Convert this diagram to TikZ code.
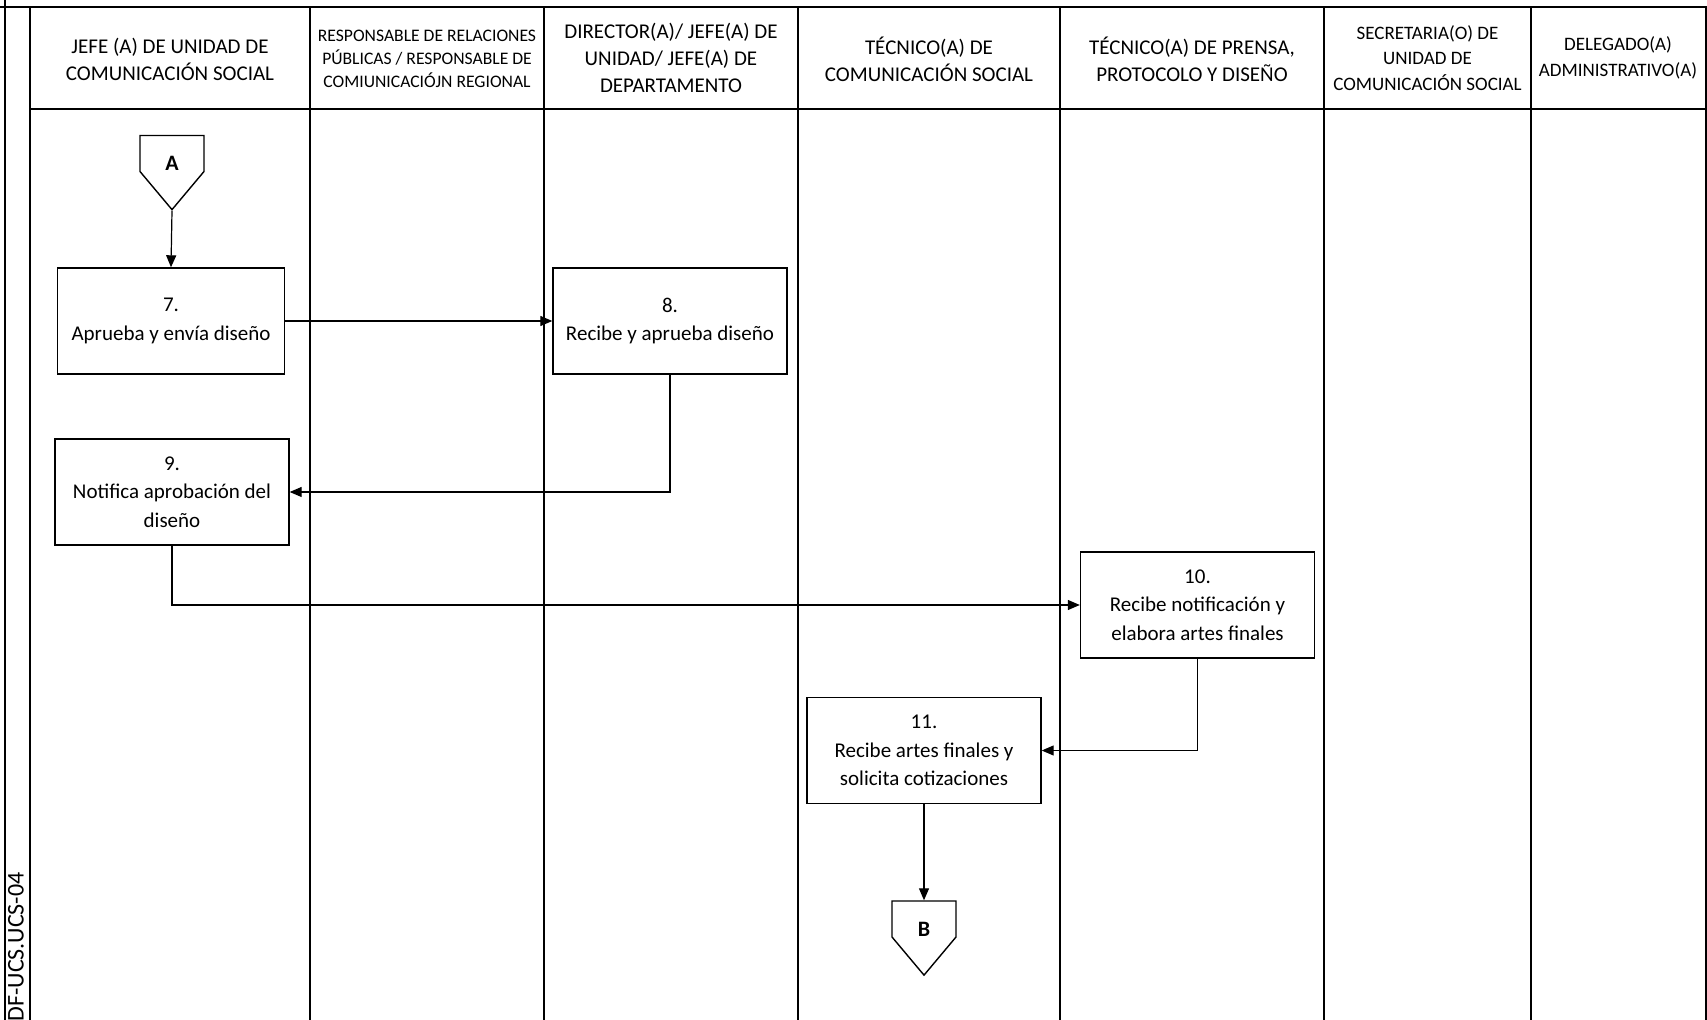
\documentclass[tikz,border=0pt]{standalone}
\usepackage{fontspec}
\setmainfont{Carlito}
\usetikzlibrary{arrows.meta,shapes.symbols}

\begin{document}
\begin{tikzpicture}[x=0.5pt,y=-0.5pt,>={Triangle[length=6pt,width=5pt]},
  lane/.style={line width=1pt},
  head/.style={align=center,inner sep=0pt,font=\fontsize{10.5}{13.5}\selectfont},
  smallhead/.style={head,font=\fontsize{8.8}{11.5}\selectfont},
  midhead/.style={head,font=\fontsize{9.5}{12.8}\selectfont},
  stepbox/.style={draw,line width=0.7pt,fill=white,align=center,minimum width=117pt,
    minimum height=53pt,inner sep=2pt,font=\fontsize{10.5}{14.2}\selectfont},
  offpage/.style={shape=signal,signal to=south,signal from=nowhere,signal pointer angle=80,
    draw,line width=0.7pt,minimum width=32pt,text height=17.5pt,text depth=0.5pt,inner sep=0pt,
    font=\bfseries\fontsize{11}{13}\selectfont},
  flow/.style={->,line width=0.6pt}]
\useasboundingbox (0,0) rectangle (1707,1020);

% lanes
\draw[lane] (0,7) -- (1707,7);
\draw[lane] (4.5,0) -- (4.5,1020);
\draw[lane] (30,7) -- (30,1020);
\draw[lane] (30,109) -- (1707,109);
\draw[lane] (310,7) -- (310,1020);
\draw[lane] (544,7) -- (544,1020);
\draw[lane] (798,7) -- (798,1020);
\draw[lane] (1060,7) -- (1060,1020);
\draw[lane] (1324,7) -- (1324,1020);
\draw[lane] (1531,7) -- (1531,1020);
\draw[lane] (1705.5,7) -- (1705.5,1020);

\node[rotate=90,anchor=east,inner sep=0pt,font=\fontsize{12}{14}\selectfont] (code) at (16,872) {DF-UCS.UCS-04};

% headers
\node[head] (jefe) at (170,59) {JEFE (A) DE UNIDAD DE\\COMUNICACIÓN SOCIAL};
\node[smallhead] (rrpp) at (427,59) {RESPONSABLE DE RELACIONES\\PÚBLICAS / RESPONSABLE DE\\COMIUNICACIÓJN REGIONAL};
\node[head] (director) at (671,58) {DIRECTOR(A)/ JEFE(A) DE\\UNIDAD/ JEFE(A) DE\\DEPARTAMENTO};
\node[head] (tecnico) at (929,59) {TÉCNICO(A) DE\\COMUNICACIÓN SOCIAL};
\node[head] (prensa) at (1192,59) {TÉCNICO(A) DE PRENSA,\\PROTOCOLO Y DISEÑO};
\node[midhead] (secretaria) at (1427.5,58) {SECRETARIA(O) DE\\UNIDAD DE\\COMUNICACIÓN SOCIAL};
\node[midhead] (delegado) at (1618,58) {DELEGADO(A)\\ADMINISTRATIVO(A)};

% steps
\node[offpage] (A) at (172,153.5) {A};
\node[stepbox,minimum width=113.3pt] (s7) at (171,321) {7.\\Aprueba y envía diseño};
\node[stepbox] (s8) at (670,321) {8.\\Recibe y aprueba diseño};
\node[stepbox] (s9) at (172,492) {9.\\Notifica aprobación del\\diseño};
\node[stepbox] (s10) at (1197.5,605) {10.\\Recibe notificación  y\\elabora artes finales};
\node[stepbox] (s11) at (924,750.5) {11.\\Recibe artes finales  y\\solicita cotizaciones};
\node[offpage] (B) at (924,919) {B};

\draw[flow] (A.south) -- (s7.north);
\draw[flow] (s7.east) -- (s8.west);
\draw[flow] (s8.south) |- (s9.east);
\draw[flow] (s9.south) |- (s10.west);
\draw[flow] (s10.south) |- (s11.east);
\draw[flow] (s11.south) -- (B.north);
\end{tikzpicture}
\end{document}
